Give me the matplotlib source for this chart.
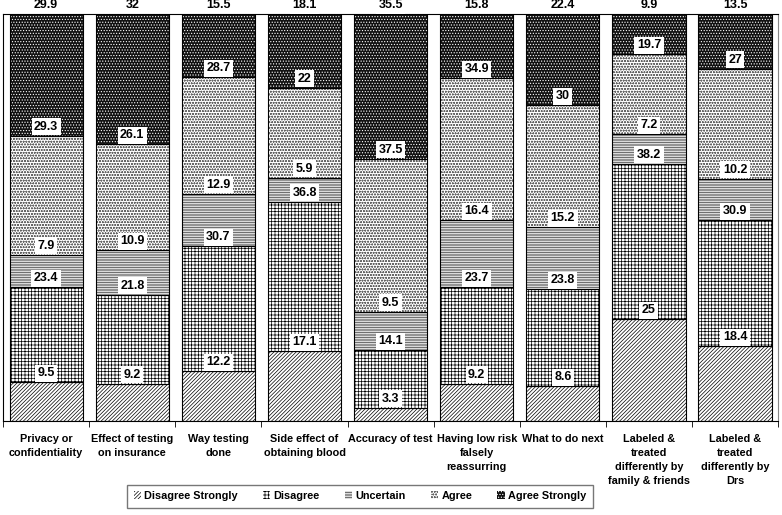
import numpy as np
import matplotlib
matplotlib.use("Agg")
import matplotlib.pyplot as plt

plt.rcParams['font.family'] = ['Liberation Sans', 'DejaVu Sans']
plt.rcParams['font.weight'] = 'bold'
plt.rcParams['hatch.linewidth'] = 0.5

CATEGORIES = ["Privacy or\nconfidentiality", "Effect of testing\non insurance", "Way testing\ndone",
              "Side effect of\nobtaining blood", "Accuracy of test", "Having low risk\nfalsely\nreassurring",
              "What to do next", "Labeled &\ntreated\ndifferently by\nfamily & friends",
              "Labeled &\ntreated\ndifferently by\nDrs"]
SERIES = ["Disagree Strongly", "Disagree", "Uncertain", "Agree", "Agree Strongly"]

disagree_strongly = [9.5, 9.2, 12.2, 17.1, 3.3, 9.2, 8.6, 25, 18.4]
disagree = [23.4, 21.8, 30.7, 36.8, 14.1, 23.7, 23.8, 38.2, 30.9]
uncertain = [7.9, 10.9, 12.9, 5.9, 9.5, 16.4, 15.2, 7.2, 10.2]
agree = [29.3, 26.1, 28.7, 22, 37.5, 34.9, 30, 19.7, 27]
agree_strongly = [29.9, 32, 15.5, 18.1, 35.5, 15.8, 22.4, 9.9, 13.5]

data = [disagree_strongly, disagree, uncertain, agree, agree_strongly]
# (face, hatch colour, hatch)
styles = [("white", "black", "/" * 9),
          ("white", "black", "+" * 5),
          ("white", "#333333", "-" * 10),
          ("white", "#666666", "o" * 6),
          ("#111111", "white", "." * 6)]

fig = plt.figure(figsize=(7.82, 5.15), dpi=100)
ax = fig.add_axes([0.004, 0.1825, 0.991, 0.7905])

x = np.arange(len(CATEGORIES))
width = 0.85
bottom = np.zeros(len(CATEGORIES))
for name, vals, (fc, hc, h) in zip(SERIES, data, styles):
    vals = np.array(vals, dtype=float)
    ax.bar(x, vals, width, bottom=bottom, color=fc, edgecolor=hc, hatch=h,
           linewidth=0, label=name)
    ax.bar(x, vals, width, bottom=bottom, facecolor="none", edgecolor="black", linewidth=0.8)
    tops = bottom + vals
    for xi, t, v in zip(x, tops, vals):
        ax.annotate(f"{v:g}", (xi, t), xytext=(0, 9), textcoords="offset pixels",
                    ha="center", va="center", fontsize=9, fontweight="bold",
                    annotation_clip=False,
                    bbox=dict(boxstyle="square,pad=0.2", fc="white", ec="none"))
    bottom = tops

ax.set_xlim(-0.5, len(CATEGORIES) - 0.5)
ax.set_ylim(0, 100)
ax.set_yticks([])
ax.set_xticks(x)
ax.set_xticklabels(CATEGORIES, fontsize=7.8, fontweight="bold", linespacing=1.5)
ax.tick_params(axis="x", which="major", length=0, pad=9)
ax.set_xticks(np.arange(-0.5, len(CATEGORIES)), minor=True)
ax.tick_params(axis="x", which="minor", length=4, direction="out")
for s in ["left", "top", "bottom"]:
    ax.spines[s].set_color("black")
ax.spines["right"].set_color("#888888")

leg = fig.legend(loc="center", bbox_to_anchor=(360 / 782, 1 - 496 / 515), ncol=5,
                 fontsize=7.8, frameon=True, fancybox=False, edgecolor="#555555",
                 handlelength=0.7, handleheight=0.7, columnspacing=2.3,
                 borderpad=0.6, handletextpad=0.3)
leg.get_frame().set_linewidth(1.0)
for t in leg.get_texts():
    t.set_fontweight("bold")

fig.savefig("out.png", dpi=100)
